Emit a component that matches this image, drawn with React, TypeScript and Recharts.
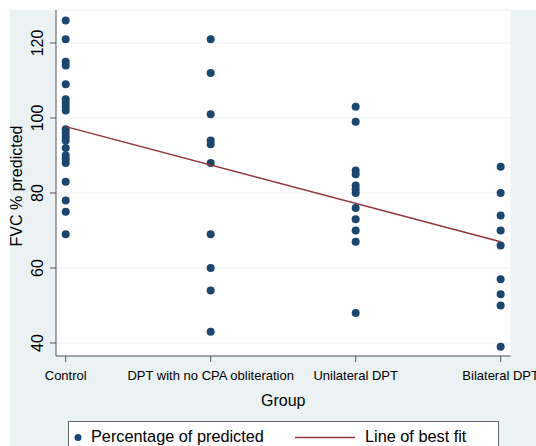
import { ComposedChart, Scatter, XAxis, YAxis, CartesianGrid } from "recharts";

const groups = ["Control", "DPT with no CPA obliteration", "Unilateral DPT", "Bilateral DPT"];
const groupTicks = [1, 2, 3, 4];

// FVC % predicted per group
const controlValues = [126, 121, 115, 114, 109, 105, 104, 103, 102, 97, 96, 95, 94, 92, 90, 89, 88, 83, 78, 75, 69];
const noCpaValues = [121, 112, 101, 94, 93, 88, 69, 60, 54, 43];
const unilateralValues = [103, 99, 86, 85, 82, 81, 80, 76, 73, 70, 67, 48];
const bilateralValues = [87, 80, 74, 70, 66, 57, 53, 50, 39];

// line of best fit, value at first and last group
const fitValues = [97.7, 67.0];
const fitGroups = [1, 4];

const yTicks = [40, 60, 80, 100, 120];

const NAVY = "#1a476f";
const MAROON = "#90353b";
const BG = "#eaf2f3";
const AXIS = "#555";
const FONT = "'Liberation Sans', Arial, sans-serif";

const points = [controlValues, noCpaValues, unilateralValues, bilateralValues].flatMap((vals, i) =>
  vals.map((v) => ({ group: groupTicks[i], value: v }))
);
const fitLine = fitGroups.map((g, i) => ({ group: g, value: fitValues[i] }));

const Dot = (props: any) => <circle cx={props.cx} cy={props.cy} r={4} fill={NAVY} />;

const XTick = (props: any) => {
  const { x, y, payload } = props;
  return (
    <text x={x} y={y} dy={13.5} textAnchor="middle" fontSize={13} fill="#000" fontFamily={FONT}>
      {groups[payload.value - 1]}
    </text>
  );
};

const YTick = (props: any) => {
  const { x, y, payload } = props;
  return (
    <text
      transform={`translate(${x - 5},${y}) rotate(-90)`}
      textAnchor="middle"
      fontSize={16}
      fill="#000"
      fontFamily={FONT}
    >
      {payload.value}
    </text>
  );
};

export default function App() {
  return (
    <div
      style={{
        position: "absolute",
        left: 0,
        top: 0,
        width: 536,
        height: 446,
        background: "#fff",
        overflow: "hidden",
        fontFamily: FONT,
      }}
    >
      <div style={{ position: "absolute", left: 10, top: 10, width: 526, height: 436, background: BG }} />
      <div style={{ position: "absolute", left: 0, top: 0 }}>
        <ComposedChart width={536} height={446} margin={{ top: 10, right: 25.5, bottom: 60, left: 10 }}>
          <CartesianGrid vertical={false} fill="#fff" stroke={BG} strokeWidth={1.2} />
          <XAxis
            type="number"
            dataKey="group"
            domain={[0.933, 4.068]}
            ticks={groupTicks}
            interval={0}
            height={30}
            tick={<XTick />}
            tickSize={6}
            tickMargin={4}
            stroke={AXIS}
            allowDataOverflow
            label={{
              content: (p: any) => (
                <text
                  x={p.viewBox.x + p.viewBox.width / 2}
                  y={p.viewBox.y + 49.5}
                  textAnchor="middle"
                  fontSize={16}
                  fill="#000"
                  fontFamily={FONT}
                >
                  Group
                </text>
              ),
            }}
          />
          <YAxis
            type="number"
            dataKey="value"
            domain={[36.53, 128.8]}
            ticks={yTicks}
            interval={0}
            width={46}
            tick={<YTick />}
            tickSize={6}
            tickMargin={2}
            stroke={AXIS}
            allowDataOverflow
            label={{
              content: (p: any) => (
                <text
                  transform={`translate(${p.viewBox.x + 12},${p.viewBox.y + p.viewBox.height / 2 + 3}) rotate(-90)`}
                  textAnchor="middle"
                  fontSize={16}
                  fill="#000"
                  fontFamily={FONT}
                >
                  FVC % predicted
                </text>
              ),
            }}
          />
          <Scatter data={points} dataKey="value" shape={<Dot />} isAnimationActive={false} />
          <Scatter
            data={fitLine}
            dataKey="value"
            line={{ stroke: MAROON, strokeWidth: 1.5 }}
            shape={() => <g />}
            isAnimationActive={false}
          />
        </ComposedChart>
      </div>
      <div
        style={{
          position: "absolute",
          left: 68,
          top: 421,
          width: 431,
          height: 40,
          background: "#fff",
          border: "1px solid #666",
          boxSizing: "border-box",
        }}
      >
        <svg width={431} height={40} style={{ position: "absolute", left: -1, top: -1 }}>
          <circle cx={10} cy={16.5} r={3.5} fill={NAVY} />
          <line x1={227} x2={287} y1={16.5} y2={16.5} stroke={MAROON} strokeWidth={1.5} />
          <text x={23} y={21} fontSize={16.3} fontFamily={FONT} fill="#000">
            Percentage of predicted
          </text>
          <text x={297} y={21} fontSize={16.3} fontFamily={FONT} fill="#000">
            Line of best fit
          </text>
        </svg>
      </div>
    </div>
  );
}
